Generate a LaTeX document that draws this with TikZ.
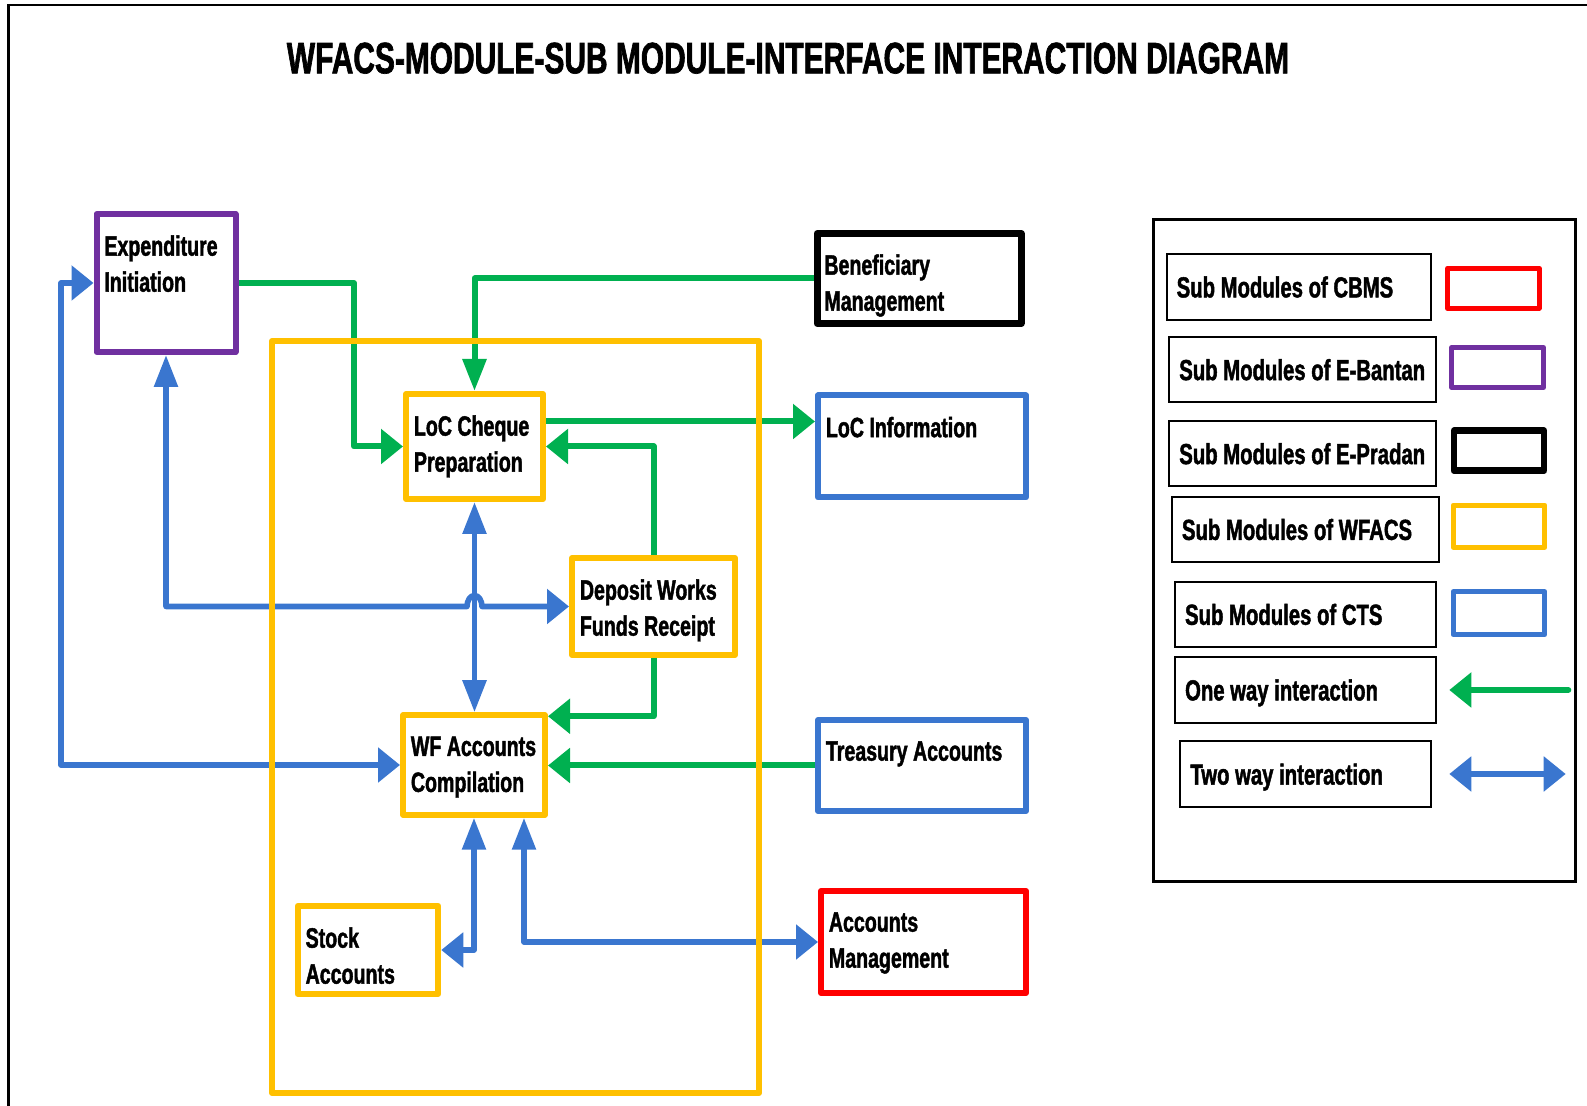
\documentclass[tikz,border=0pt]{standalone}
\usepackage{fontspec}
\setmainfont{Liberation Sans}[FakeStretch=0.7, BoldFeatures={FakeBold=1.5}]
\newfontfamily\titlefont{Liberation Sans}[FakeStretch=0.68, BoldFeatures={FakeBold=1.5}]
\usetikzlibrary{arrows.meta,calc}

\definecolor{wfYellow}{HTML}{FFC000}
\definecolor{ctsBlue}{HTML}{3A76CF}
\definecolor{flowGreen}{HTML}{00B050}
\definecolor{bantanPurple}{HTML}{7030A0}
\definecolor{cbmsRed}{HTML}{FF0000}

\tikzset{
  hT/.tip={Triangle[length=11pt,width=17pt]},
  vT/.tip={Triangle[length=16pt,width=11.5pt]},
  modbox/.style={draw=#1, line width=3pt, line join=round, inner sep=0pt},
  lbl/.style={anchor=north west, inner sep=0pt, align=left,
    font=\bfseries\fontsize{14}{18}\selectfont},
  flowG/.style={draw=flowGreen, line width=3pt, line join=round},
  flowB/.style={draw=ctsBlue, line width=2.8pt, line join=round},
  legbox/.style={draw, line width=1pt, minimum height=32.75pt, inner xsep=5pt,
    inner ysep=0pt, text height=10.4pt, text depth=0pt,
    font=\bfseries\fontsize{14.5}{17}\selectfont},
  swatch/.style={draw=#1, line width=2.5pt, inner sep=0pt, line join=round},
}
% legend caption set flush left in a fixed-width box
\newcommand\legtext[2]{\makebox[#1][l]{#2}}

\begin{document}
\begin{tikzpicture}[x=0.5pt,y=-0.5pt]
\useasboundingbox (0,0) rectangle (1587,1106);

% page frame (top and left rules)
\draw[line width=1.4pt] (1587,5) -- (8.5,5) -- (8.5,1106);

% title
\node[anchor=base, inner sep=0pt, font=\titlefont\bfseries\fontsize{22}{26}\selectfont]
  (title) at (788,73.3) {WFACS-MODULE-SUB MODULE-INTERFACE INTERACTION DIAGRAM};

% module boxes
\node[modbox=bantanPurple, minimum width=69.5pt, minimum height=69pt] (expInit) at (166,283) {};
\node[modbox=black, line width=3.5pt, minimum width=102pt, minimum height=45pt] (benefMgmt) at (919,278.5) {};
\node[modbox=wfYellow, minimum width=68.5pt, minimum height=52.5pt] (locCheque) at (474.5,446.5) {};
\node[modbox=ctsBlue, minimum width=104pt, minimum height=51pt] (locInfo) at (922,446.5) {};
\node[modbox=wfYellow, minimum width=81.5pt, minimum height=48.5pt] (deposit) at (653.5,606.5) {};
\node[modbox=wfYellow, minimum width=71pt, minimum height=49.75pt] (wfAcc) at (474,765) {};
\node[modbox=ctsBlue, minimum width=104pt, minimum height=45.5pt] (treasury) at (922,765.5) {};
\node[modbox=wfYellow, minimum width=70.25pt, minimum height=44pt] (stock) at (368,950) {};
\node[modbox=cbmsRed, minimum width=102.5pt, minimum height=51pt] (accMgmt) at (923.5,942) {};

% box captions
\node[lbl] (expInitT) at ($(expInit.north west)+(10.5,24)$) {Expenditure\\Initiation};
\node[lbl] (benefMgmtT) at ($(benefMgmt.north west)+(10.5,24)$) {Beneficiary\\Management};
\node[lbl] (locChequeT) at ($(locCheque.north west)+(10.5,24)$) {LoC Cheque\\Preparation};
\node[lbl] (locInfoT) at ($(locInfo.north west)+(10.5,24)$) {LoC Information};
\node[lbl] (depositT) at ($(deposit.north west)+(10.5,24)$) {Deposit Works\\Funds Receipt};
\node[lbl] (wfAccT) at ($(wfAcc.north west)+(10.5,24)$) {WF Accounts\\Compilation};
\node[lbl] (treasuryT) at ($(treasury.north west)+(10.5,24)$) {Treasury Accounts};
\node[lbl] (stockT) at ($(stock.north west)+(10.5,24)$) {Stock\\Accounts};
\node[lbl] (accMgmtT) at ($(accMgmt.north west)+(10.5,24)$) {Accounts\\Management};

% one way interactions
\draw[flowG, -hT] (expInit.east) -| ($(locCheque.west)+(-49,0)$) -- (locCheque.west);
\draw[flowG, -vT] (benefMgmt.west) -| (locCheque.north);
\coordinate (g3s) at ($(locCheque.east)+(0,-25)$);
\draw[flowG, -hT] (g3s) -- (g3s -| locInfo.west);
\draw[flowG, -hT] (deposit.north) |- (locCheque.east);
\draw[flowG, -hT] (deposit.south) |- ($(wfAcc.north east)+(0,4)$);
\draw[flowG, -hT] (treasury.west) -- (treasury.west -| wfAcc.east);

% two way interactions
\coordinate (railB) at (61,765);
\draw[flowB, hT-hT] (expInit.west) -| (railB) -- (wfAcc.west);
\coordinate (hop) at (locCheque.south |- deposit.west);
\draw[flowB, vT-hT] (expInit.south) |- ($(hop)+(-7.5,0)$)
  arc[start angle=180, end angle=360, x radius=7.5, y radius=11] -- (deposit.west);
\draw[flowB, vT-vT] (locCheque.south) -- (locCheque.south |- wfAcc.north);
\draw[flowB, vT-hT] (wfAcc.south) |- (stock.east);
\draw[flowB, vT-hT] ($(wfAcc.south)+(50,0)$) |- (accMgmt.west);

% WFACS module boundary
\draw[wfYellow, line width=3pt, line join=round] (272,341) rectangle (759,1093);

% legend
\draw[line width=1.5pt] (1153,219.8) rectangle (1575.5,881.8);
\node[legbox] (lgCBMS) at (1298.7,287) {\legtext{122pt}{Sub Modules of CBMS}};
\node[legbox] (lgBantan) at (1302.8,369.7) {\legtext{123.5pt}{Sub Modules of E-Bantan}};
\node[legbox] (lgPradan) at (1302.8,453.7) {\legtext{123.5pt}{Sub Modules of E-Pradan}};
\node[legbox] (lgWFACS) at (1305.5,529.5) {\legtext{123.5pt}{Sub Modules of WFACS}};
\node[legbox] (lgCTS) at (1305.7,614.4) {\legtext{120.6pt}{Sub Modules of CTS}};
\node[legbox] (lgOne) at (1305.7,690) {\legtext{120.6pt}{One way interaction}};
\node[legbox] (lgTwo) at (1305.7,774.2) {\legtext{115.3pt}{Two way interaction}};

\node[swatch=cbmsRed, minimum width=45.85pt, minimum height=19.85pt] (swCBMS) at (1493.3,288.3) {};
\node[swatch=bantanPurple, minimum width=45.85pt, minimum height=20pt] (swBantan) at (1497.7,367.5) {};
\node[swatch=black, line width=3.3pt, minimum width=45pt, minimum height=20pt] (swPradan) at (1499,450.7) {};
\node[swatch=wfYellow, minimum width=45.85pt, minimum height=21.15pt] (swWFACS) at (1499,526.3) {};
\node[swatch=ctsBlue, minimum width=45.85pt, minimum height=21.5pt] (swCTS) at (1499,613.2) {};

\coordinate (oneTail) at (1568.3,690);
\coordinate (oneHead) at (1449.3,690);
\draw[flowG, line cap=round, -hT] (oneTail) -- (oneHead);
\coordinate (twoL) at (1449.3,774);
\coordinate (twoR) at (1565.7,774);
\draw[flowB, hT-hT] (twoL) -- (twoR);
\end{tikzpicture}
\end{document}
